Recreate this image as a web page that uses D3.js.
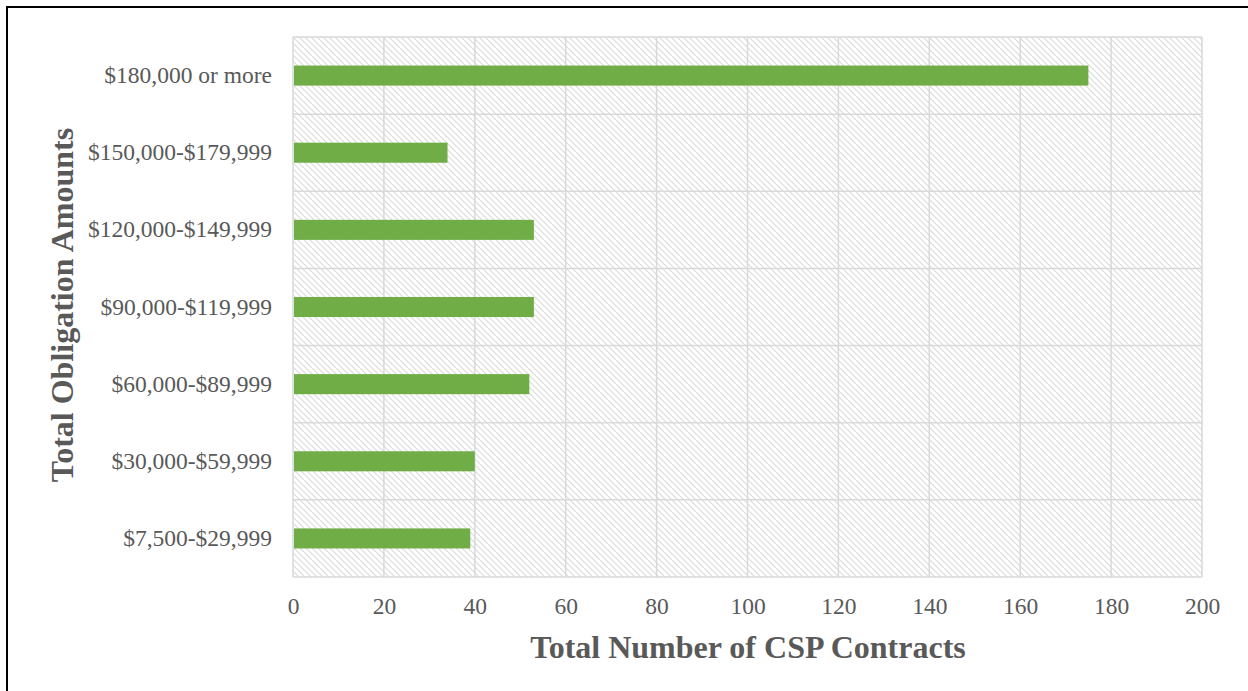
<!DOCTYPE html>
<html>
<head>
<meta charset="utf-8">
<script src="https://cdn.jsdelivr.net/npm/d3@7"></script>
<style>
  html, body { margin: 0; padding: 0; background: #fff; }
  svg { display: block; }
</style>
</head>
<body>
<svg id="chart" width="1248" height="691"></svg>
<script>
// Contract counts by total obligation amount band
const categories = [
  "$180,000 or more",
  "$150,000-$179,999",
  "$120,000-$149,999",
  "$90,000-$119,999",
  "$60,000-$89,999",
  "$30,000-$59,999",
  "$7,500-$29,999"
];
const contracts = [175, 34, 53, 53, 52, 40, 39];
const xTicks = [0, 20, 40, 60, 80, 100, 120, 140, 160, 180, 200];
const xTitle = "Total Number of CSP Contracts";
const yTitle = "Total Obligation Amounts";

const svg = d3.select("#chart");
const W = 1248, H = 691;
const m = { left: 293, right: 46, top: 37, bottom: 114 };
const plotW = W - m.left - m.right;
const plotH = H - m.top - m.bottom;
const font = "'Liberation Serif', 'Times New Roman', serif";
const textColor = "#595959";
const gridColor = "#d9d9d9";

// diagonal hatch fill for the plot area
const defs = svg.append("defs");
const pat = defs.append("pattern")
  .attr("id", "hatch")
  .attr("patternUnits", "userSpaceOnUse")
  .attr("width", 6).attr("height", 6);
pat.append("rect").attr("width", 6).attr("height", 6).attr("fill", "#fff");
pat.append("path")
  .attr("d", "M-1,-1 L7,7 M-4,2 L4,10 M2,-4 L10,4")
  .attr("stroke", "#dadada").attr("stroke-width", 1.1);

// outer frame: top and left rules
svg.append("line").attr("x1", 6).attr("x2", W).attr("y1", 7).attr("y2", 7)
  .attr("stroke", "#000").attr("stroke-width", 2);
svg.append("line").attr("x1", 7).attr("x2", 7).attr("y1", 6).attr("y2", H)
  .attr("stroke", "#000").attr("stroke-width", 2);

const g = svg.append("g").attr("transform", `translate(${m.left},${m.top})`);

const x = d3.scaleLinear().domain([0, 200]).range([0, plotW]);
const y = d3.scaleBand().domain(categories).range([0, plotH]).paddingInner(0.74).paddingOuter(0.37);
const yBands = d3.scaleBand().domain(categories).range([0, plotH]).padding(0);

g.append("rect").attr("width", plotW).attr("height", plotH).attr("fill", "url(#hatch)");

// vertical gridlines
g.selectAll(".vgrid").data(xTicks).join("line")
  .attr("class", "vgrid")
  .attr("x1", d => x(d)).attr("x2", d => x(d))
  .attr("y1", 0).attr("y2", plotH)
  .attr("stroke", gridColor).attr("stroke-width", 1.5);

// horizontal gridlines between categories
const hLines = categories.map(c => yBands(c)).concat([plotH]);
g.selectAll(".hgrid").data(hLines).join("line")
  .attr("class", "hgrid")
  .attr("x1", 0).attr("x2", plotW)
  .attr("y1", d => d).attr("y2", d => d)
  .attr("stroke", gridColor).attr("stroke-width", 1.5);

// bars
g.selectAll(".bar").data(categories).join("rect")
  .attr("class", "bar")
  .attr("x", x(0) + 1)
  .attr("y", d => y(d))
  .attr("width", (d, i) => x(contracts[i]) - x(0) - 1)
  .attr("height", y.bandwidth())
  .attr("fill", "#70ad47");

// x axis labels
const xAxis = g.append("g")
  .attr("transform", `translate(0,${plotH})`)
  .call(d3.axisBottom(x).tickValues(xTicks).tickSize(0).tickPadding(20));
xAxis.select(".domain").remove();
xAxis.selectAll("text")
  .attr("font-family", font).attr("font-size", 23.5).attr("fill", textColor);

// y axis labels
const yAxis = g.append("g")
  .call(d3.axisLeft(yBands).tickSize(0).tickPadding(21));
yAxis.select(".domain").remove();
yAxis.selectAll("text")
  .attr("font-family", font).attr("font-size", 23.5).attr("fill", textColor);

// axis titles
svg.append("text")
  .attr("x", 748).attr("y", 658)
  .attr("text-anchor", "middle")
  .attr("font-family", font).attr("font-size", 32).attr("font-weight", "bold")
  .attr("fill", textColor)
  .text(xTitle);

svg.append("text")
  .attr("transform", `translate(73,305) rotate(-90)`)
  .attr("text-anchor", "middle")
  .attr("font-family", font).attr("font-size", 32).attr("font-weight", "bold")
  .attr("fill", textColor)
  .text(yTitle);
</script>
</body>
</html>
